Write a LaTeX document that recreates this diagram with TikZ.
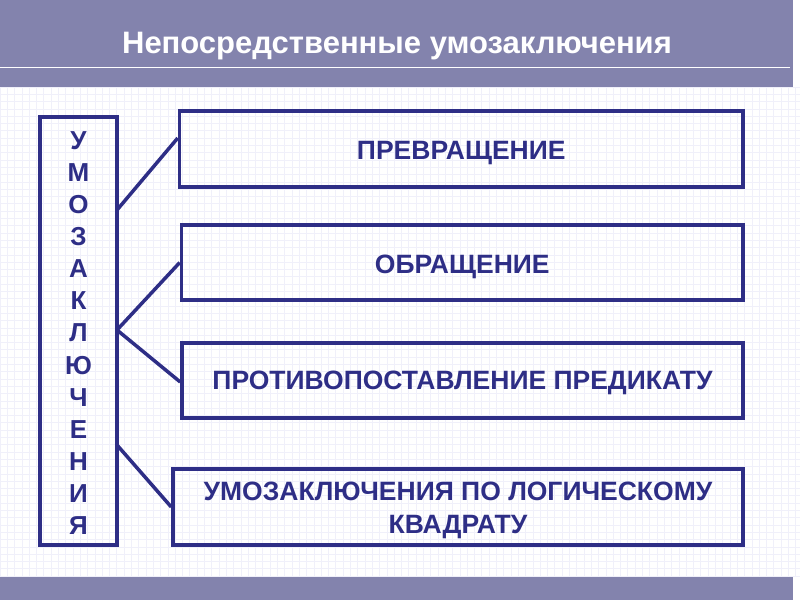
\documentclass[tikz,border=0pt]{standalone}
\usepackage{fontspec}
\setmainfont{Liberation Sans}
\definecolor{band}{RGB}{131,131,173}
\definecolor{ink}{RGB}{46,46,134}
\definecolor{gridc}{RGB}{240,240,250}
\begin{document}
\begin{tikzpicture}[x=1pt,y=-1pt,
  box/.style={draw=ink,line width=3.5pt,fill=none,inner sep=0pt},
  lbl/.style={font=\bfseries\fontsize{26.5}{33}\selectfont,text=ink,align=center,inner sep=0pt},
  link/.style={draw=ink,line width=3.5pt}]
\useasboundingbox (0,0) rectangle (800,600);
\fill[white] (0,0) rectangle (800,600);
% faint grid
\foreach \i in {0,...,110} {
  \draw[gridc,line width=0.8pt] ({\i*7.3},87) -- ({\i*7.3},577);
}
\foreach \j in {0,...,67} {
  \draw[gridc,line width=0.8pt] (0,{87+\j*7.3}) -- (800,{87+\j*7.3});
}
% bands
\fill[band] (0,0) rectangle (793,87);
\draw[white,line width=1pt] (0,67) -- (790,67);
\fill[band] (0,577) rectangle (793,600);
\node[font=\bfseries\fontsize{31}{33}\selectfont,text=white] (title) at (397,46) {Непосредственные умозаключения};
% boxes
\node[box,minimum width=77pt,minimum height=428pt] (L) at (78.5,331) {};
\node[text=ink,font=\bfseries\fontsize{26}{32.1}\selectfont,align=center] (Lt) at (78.5,333)
  {У\\М\\О\\З\\А\\К\\Л\\Ю\\Ч\\Е\\Н\\И\\Я};
\node[box,minimum width=563.5pt,minimum height=76pt] (b1) at (461.25,149) {};
\node[box,minimum width=561.5pt,minimum height=75pt] (b2) at (462.25,262.5) {};
\node[box,minimum width=561pt,minimum height=75pt] (b3) at (462.5,380.5) {};
\node[box,minimum width=570pt,minimum height=76pt] (b4) at (458,507) {};
\node[lbl] (t1) at ([yshift=-4pt]b1.center) {ПРЕВРАЩЕНИЕ};
\node[lbl] (t2) at ([yshift=-4pt]b2.center) {ОБРАЩЕНИЕ};
\node[lbl] (t3) at ([yshift=-2pt]b3.center) {ПРОТИВОПОСТАВЛЕНИЕ ПРЕДИКАТУ};
\node[lbl] (t4) at ([yshift=-3.5pt]b4.center) {УМОЗАКЛЮЧЕНИЯ ПО ЛОГИЧЕСКОМУ\\КВАДРАТУ};
% connectors
\coordinate (s1) at (117,210);
\coordinate (s2) at (117,330);
\coordinate (s3) at (117,445);
\draw[link] (s1) -- ([yshift=11pt]b1.west);
\draw[link] (s2) -- (b2.west);
\draw[link] (s2) -- ([yshift=-1.5pt]b3.west);
\draw[link] (s3) -- (b4.west);
\end{tikzpicture}
\end{document}
